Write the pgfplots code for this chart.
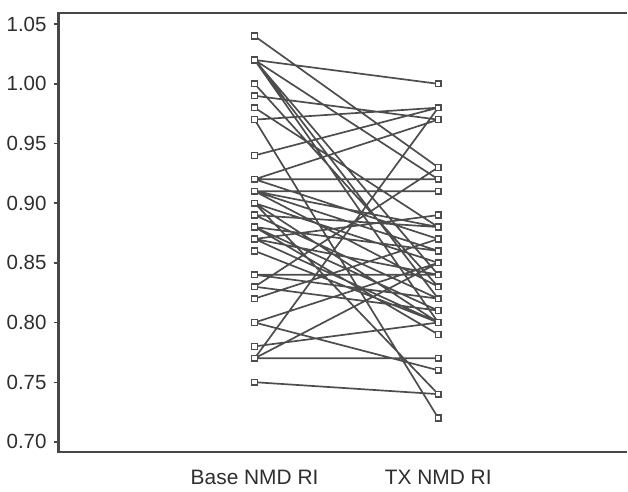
\documentclass[border=0pt]{standalone}
\usepackage{fontspec}
\setmainfont{Liberation Sans}
\usepackage{pgfplots}
\pgfplotsset{compat=1.18}
\definecolor{linegray}{HTML}{4D4D4D}
\definecolor{spinegray}{HTML}{474747}
\definecolor{textgray}{HTML}{2E2E2E}
\begin{document}
\begin{tikzpicture}
\begin{axis}[
  scale only axis,
  width=285.5pt, height=220.5pt,
  xmin=-0.068, xmax=3.027,
  ymin=0.6917, ymax=1.0594,
  clip=false,
  axis line style={draw=none},
  unbounded coords=jump,
  xtick={1,2},
  xticklabels={Base NMD RI, TX NMD RI},
  x tick style={draw=none},
  xticklabel style={anchor=base, yshift=-14pt, font=\fontsize{10.5pt}{12pt}\selectfont, text=textgray},
  ytick={0.70,0.75,...,1.06},
  yticklabel style={/pgf/number format/fixed, /pgf/number format/precision=2, /pgf/number format/fixed zerofill, font=\fontsize{10.3pt}{12pt}\selectfont, text=textgray},
  /pgf/number format/assume math mode=true,
  y tick style={spinegray, line width=0.7pt},
  tick align=outside,
  major tick length=2.5pt,
  xtick pos=bottom, ytick pos=left,
]
\addplot[linegray, line width=0.85pt, mark=square*, mark size=1.45pt, mark options={fill=white, draw=linegray, line width=0.75pt}]
coordinates {
(1,1.04) (2,0.93) (1.5,nan)
(1,1.02) (2,1.00) (1.5,nan)
(1,1.02) (2,0.92) (1.5,nan)
(1,1.02) (2,0.84) (1.5,nan)
(1,1.02) (2,0.82) (1.5,nan)
(1,1.02) (2,0.80) (1.5,nan)
(1,1.00) (2,0.83) (1.5,nan)
(1,0.99) (2,0.97) (1.5,nan)
(1,0.98) (2,0.88) (1.5,nan)
(1,0.97) (2,0.98) (1.5,nan)
(1,0.97) (2,0.72) (1.5,nan)
(1,0.94) (2,0.98) (1.5,nan)
(1,0.92) (2,0.92) (1.5,nan)
(1,0.92) (2,0.97) (1.5,nan)
(1,0.92) (2,0.87) (1.5,nan)
(1,0.91) (2,0.91) (1.5,nan)
(1,0.91) (2,0.88) (1.5,nan)
(1,0.91) (2,0.86) (1.5,nan)
(1,0.91) (2,0.83) (1.5,nan)
(1,0.90) (2,0.85) (1.5,nan)
(1,0.90) (2,0.80) (1.5,nan)
(1,0.90) (2,0.74) (1.5,nan)
(1,0.89) (2,0.88) (1.5,nan)
(1,0.89) (2,0.82) (1.5,nan)
(1,0.88) (2,0.86) (1.5,nan)
(1,0.88) (2,0.81) (1.5,nan)
(1,0.88) (2,0.79) (1.5,nan)
(1,0.87) (2,0.89) (1.5,nan)
(1,0.87) (2,0.84) (1.5,nan)
(1,0.87) (2,0.80) (1.5,nan)
(1,0.86) (2,0.80) (1.5,nan)
(1,0.84) (2,0.84) (1.5,nan)
(1,0.84) (2,0.82) (1.5,nan)
(1,0.83) (2,0.93) (1.5,nan)
(1,0.83) (2,0.81) (1.5,nan)
(1,0.82) (2,0.87) (1.5,nan)
(1,0.80) (2,0.85) (1.5,nan)
(1,0.80) (2,0.76) (1.5,nan)
(1,0.78) (2,0.80) (1.5,nan)
(1,0.77) (2,0.77) (1.5,nan)
(1,0.77) (2,0.85) (1.5,nan)
(1,0.77) (2,0.98) (1.5,nan)
(1,0.75) (2,0.74)
};
\draw[spinegray, line width=1.25pt] (rel axis cs:1,1) -- (rel axis cs:0,1) -- (rel axis cs:0,0) -- (rel axis cs:1,0);
\path (rel axis cs:0,0) ++(-28.5pt,-15.5pt) coordinate (bbA);
\path (rel axis cs:1,1) ++(0pt,6.5pt) coordinate (bbB);
\path (bbA) rectangle (bbB);
\end{axis}
\end{tikzpicture}
\end{document}
